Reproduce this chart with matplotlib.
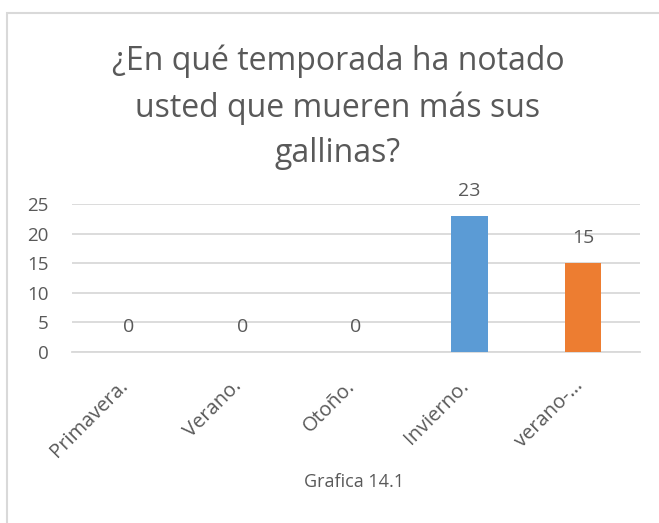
import matplotlib
matplotlib.use("Agg")
import matplotlib.pyplot as plt
from matplotlib.patches import Rectangle

categories = ["Primavera.", "Verano.", "Otoño.", "Invierno.", "verano-…"]
values = [0, 0, 0, 23, 15]
bar_colors = ["#5b9bd5", "#5b9bd5", "#5b9bd5", "#5b9bd5", "#ed7d31"]
yticks = [0, 5, 10, 15, 20, 25]
title_lines = ["¿En qué temporada ha notado", "usted que mueren más sus", "gallinas?"]
caption = "Grafica 14.1"

plt.rcParams['font.family'] = ['Open Sans', 'DejaVu Sans']
TXT = "#595959"
W, H = 659, 523
fig = plt.figure(figsize=(W / 100, H / 100), dpi=100)

# border
fig.add_artist(Rectangle((7 / W, -0.1), 1.2, 1 - 13 / H + 0.1, transform=fig.transFigure,
                         fill=False, edgecolor="#d9d9d9", linewidth=1.5))

ax = fig.add_axes([72 / W, 1 - 352 / H, 568 / W, 148 / H])
x = list(range(len(categories)))
ax.bar(x, values, width=0.32, color=bar_colors, zorder=3)
ax.set_xlim(-0.5, len(categories) - 0.5)
ax.set_ylim(0, 25)
ax.set_yticks(yticks)
ax.set_yticklabels([str(t) for t in yticks], fontsize=13.5, color=TXT)
ax.yaxis.grid(True, color="#d9d9d9", linewidth=1.3, zorder=0)
ax.set_axisbelow(True)
for s in ["top", "right", "left"]:
    ax.spines[s].set_visible(False)
ax.spines["bottom"].set_color("#d9d9d9")
ax.spines["bottom"].set_linewidth(1.3)
ax.tick_params(axis="both", length=0)
ax.tick_params(axis="y", pad=17)
ax.set_xticks(x)
ax.set_xticklabels(categories, rotation=45, ha="right", va="baseline",
                   rotation_mode="anchor", fontsize=14.5, color=TXT)
ax.tick_params(axis="x", pad=25)

for xi, v in zip(x, values):
    ax.annotate(str(v), (xi, v), xytext=(0, 25), textcoords="offset pixels",
                ha="center", va="center", fontsize=14, color=TXT)

ys = [70, 117, 162]
for line, yb in zip(title_lines, ys):
    fig.text(338 / W, 1 - yb / H, line, ha="center", va="baseline", fontsize=23, color=TXT)

fig.text(354 / W, 1 - 482 / H, caption, ha="center", va="center", fontsize=13, color=TXT)

fig.savefig("out.png", dpi=100)
